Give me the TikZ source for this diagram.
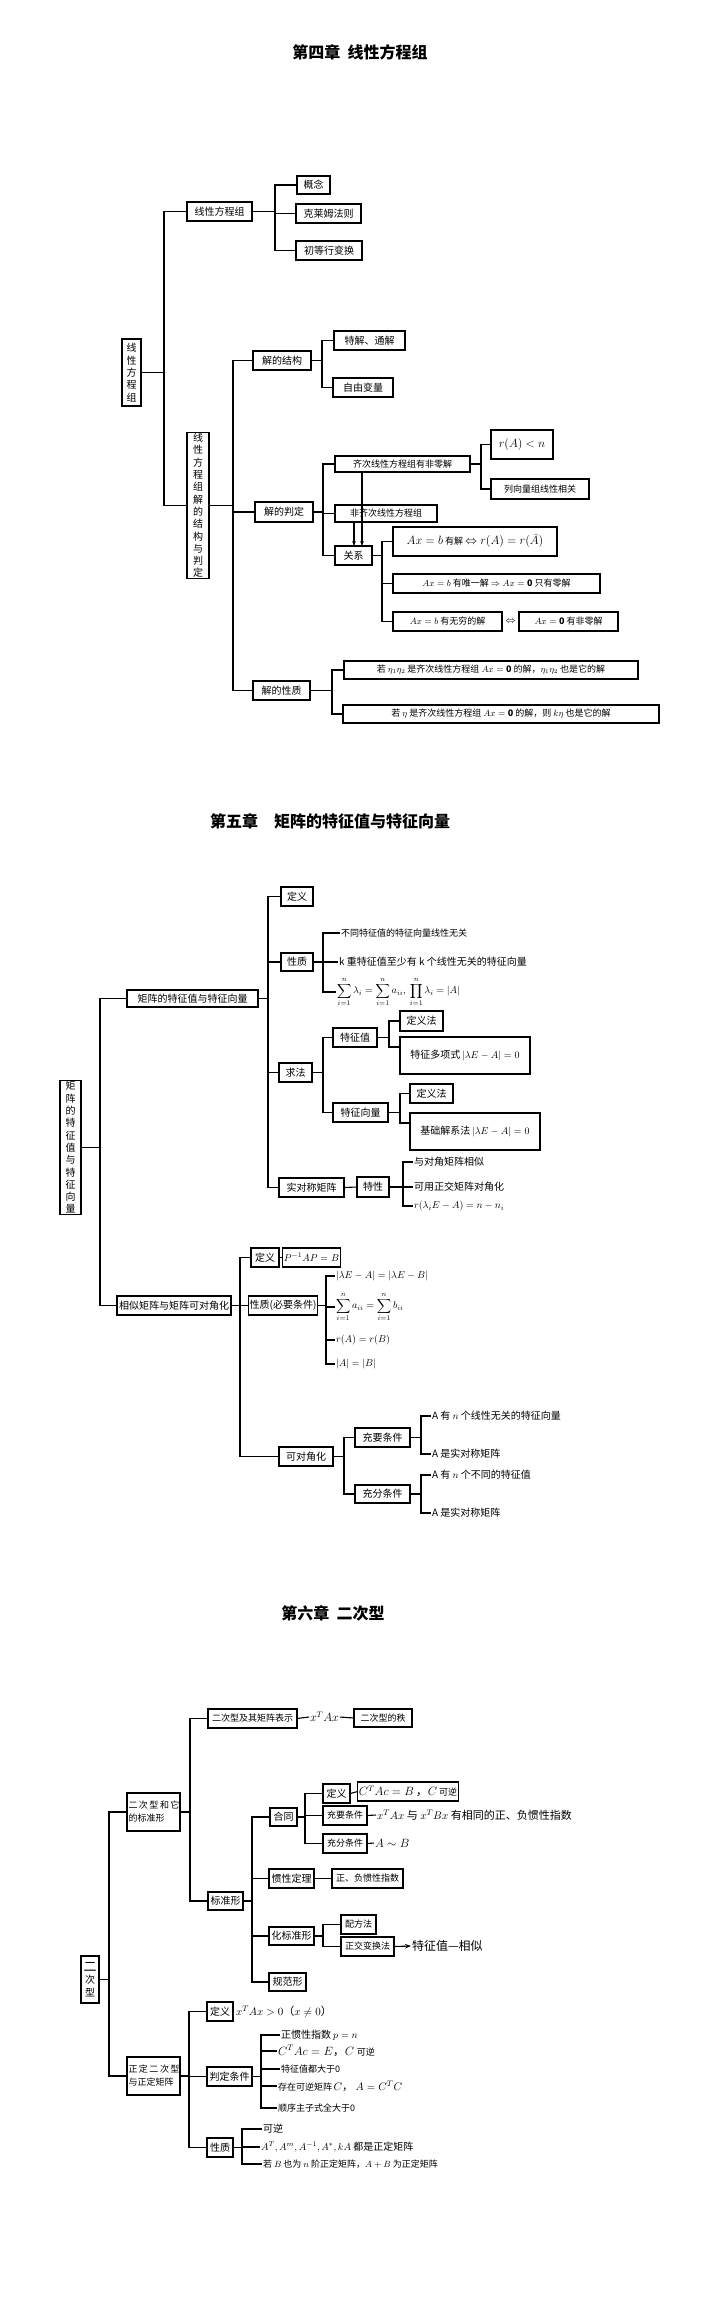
\documentclass[tikz,border=0pt]{standalone}
\usepackage{fontspec}
\setmainfont{Noto Sans CJK SC}
\usepackage{amsmath}
\usetikzlibrary{arrows.meta,calc}
\tikzset{
  box/.style={draw,line width=1.1pt,inner sep=1pt,outer sep=0pt,font=\fontsize{10}{12.3}\selectfont,align=center},
  sbox/.style={box,font=\fontsize{9}{11}\selectfont},
  txt/.style={inner sep=1pt,outer sep=0pt,font=\fontsize{10}{12}\selectfont},
  ln/.style={line width=1.1pt},
  ttl/.style={font=\fontsize{16}{18}\selectfont\bfseries}
}
\newcommand\bx[7][box]{\node[#1,minimum width={(#5-#3)*1pt},minimum height={(#6-#4)*1pt}] (#2) at ({(#3+#5)/2},{(#4+#6)/2}) {#7};}
\newcommand\tx[4]{\node[txt,anchor=west] (#1) at (#2,#3) {#4};}
\newcommand\br[3]{\draw[ln] let \p1=(#1.east) in (\p1) -- (#2pt,\y1) |- (#3.west);}
\begin{document}
\begin{tikzpicture}[x=1pt,y=-1pt]
\useasboundingbox (0,0) rectangle (720,2315);
% ================= Chapter 4
\node[ttl] (t4) at (360,52) {第四章\ \ 线性方程组};
\bx{r4}{122}{339}{141}{406}{线\\性\\方\\程\\组}
\bx{l1}{187}{202}{252}{221}{线性方程组}
\bx{l2}{187}{436}{209}{575}{线\\性\\方\\程\\组\\解\\的\\结\\构\\与\\判\\定}
\br{r4}{164}{l1}\br{r4}{164}{l2}
\bx{gn}{297}{176}{330}{194}{概念}
\bx{km}{296}{204}{361}{223}{克莱姆法则}
\bx{cd}{296}{241}{362}{260}{初等行变换}
\br{l1}{275}{gn}\br{l1}{275}{km}\br{l1}{275}{cd}
\bx{jg}{253}{351}{311}{370}{解的结构}
\bx{jp}{255}{502}{313}{522}{解的判定}
\bx{jx}{253}{681}{310}{700}{解的性质}
\br{l2}{233}{jg}\br{l2}{233}{jp}\br{l2}{233}{jx}
\bx{tj}{334}{331}{405}{350}{特解、通解}
\bx{zy}{333}{378}{393}{397}{自由变量}
\br{jg}{322}{tj}\br{jg}{322}{zy}
\bx[sbox]{qc}{335}{456}{470}{472}{齐次线性方程组有非零解}
\bx[sbox]{fq}{335}{505}{437}{522}{非齐次线性方程组}
\bx{gx}{335}{546}{372}{565}{关系}
\br{jp}{323}{qc}\br{jp}{323}{fq}\br{jp}{323}{gx}
\draw[ln,-{Stealth[length=5pt]}] ([xshift=-40.5pt]qc.south) -- ([xshift=-40.5pt]qc.south |- gx.north);
\draw[ln,-{Stealth[length=5pt]}] ([xshift=-32pt]fq.south) -- ([xshift=-32pt]fq.south |- gx.north);
\bx{ra}{491}{430}{553}{459}{\fontsize{13}{15}\selectfont$r(A)<n$}
\bx[sbox]{lx}{491}{479}{589}{499}{列向量组线性相关}
\br{qc}{481}{ra}\br{qc}{481}{lx}
\bx[sbox]{b1}{393}{527}{557}{556}{\fontsize{12}{14}\selectfont$Ax=b$\,{\fontsize{9}{11}\selectfont 有解}\,$\Leftrightarrow r(A)=r(\bar A)$}
\bx[sbox]{b2}{393}{574}{600}{593}{$Ax=b$ 有唯一解 $\Rightarrow Ax=\mathbf 0$ 只有零解}
\bx[sbox]{b3}{393}{612}{502}{631}{$Ax=b$ 有无穷的解}
\bx[sbox]{b4}{519}{612}{618}{631}{$Ax=\mathbf 0$ 有非零解}
\node[txt] (eq) at (510.5,621.5) {$\Leftrightarrow$};
\br{gx}{382}{b1}\br{gx}{382}{b2}\br{gx}{382}{b3}
\bx[sbox]{p1}{344}{661}{638}{679}{若 $\eta_1\eta_2$ 是齐次线性方程组 $Ax=\mathbf 0$ 的解，$\eta_1\eta_2$ 也是它的解}
\bx[sbox]{p2}{343}{705}{659}{723}{若 $\eta$ 是齐次线性方程组 $Ax=\mathbf 0$ 的解，则 $k\eta$ 也是它的解}
\br{jx}{332}{p1}\br{jx}{332}{p2}
% ================= Chapter 5
\node[ttl] (t5) at (330,821) {第五章\quad 矩阵的特征值与特征向量};
\bx{r5}{60}{1082}{81}{1213}{矩\\阵\\的\\特\\征\\值\\与\\特\\征\\向\\量}
\bx{m1}{127}{990}{258}{1007}{矩阵的特征值与特征向量}
\bx{m2}{117}{1296}{231}{1315}{相似矩阵与矩阵可对角化}
\br{r5}{100}{m1}\br{r5}{100}{m2}
\bx{dy}{281}{887}{313}{906}{定义}
\bx{xz}{281}{953}{313}{971}{性质}
\bx{qf}{279}{1063}{312}{1082}{求法}
\bx{sd}{279}{1178}{344}{1197}{实对称矩阵}
\br{m1}{268}{dy}\br{m1}{268}{xz}\br{m1}{268}{qf}\br{m1}{268}{sd}
\tx{x1}{340}{933}{\fontsize{9}{11}\selectfont 不同特征值的特征向量线性无关}
\tx{x2}{338}{962}{k 重特征值至少有 k 个线性无关的特征向量}
\tx{x3}{336}{992}{$\displaystyle\sum_{i=1}^n\lambda_i=\sum_{i=1}^n a_{ii},\ \prod_{i=1}^n\lambda_i=|A|$}
\draw[ln] let \p1=(xz.east) in (\p1) -- (323pt,\y1);
\draw[ln] let \p1=(x1.west) in (\p1) -- (323pt,\y1) |- (x3.west);
\draw[ln] let \p1=(x2.west) in (\p1) -- (323pt,\y1);
\bx{tz}{333}{1028}{377}{1047}{特征值}
\bx{tx}{333}{1103}{388}{1122}{特征向量}
\br{qf}{323}{tz}\br{qf}{323}{tx}
\bx{d1}{400}{1011}{443}{1031}{定义法}
\bx{dx}{400}{1037}{530}{1074}{特征多项式\,$|\lambda E-A|=0$}
\draw[ln] let \p1=(tz.east) in (\p1) -- (389pt,\y1) |- (d1.west);
\draw[ln] let \p1=(tz.east) in (\p1) -- (389pt,\y1) |- ([yshift=-10pt]dx.north west);
\bx{d2}{410}{1084}{453}{1103}{定义法}
\bx{jc}{410}{1113}{540}{1150}{基础解系法\,$|\lambda E-A|=0$}
\draw[ln] let \p1=(tx.east) in (\p1) -- (400pt,\y1) |- (d2.west);
\draw[ln] let \p1=(tx.east) in (\p1) -- (400pt,\y1) |- ([yshift=-10pt]jc.north west);
\bx{tx2}{357}{1177}{389}{1197}{特性}
\draw[ln] (sd.east) -- (tx2.west);
\tx{s1}{413}{1162}{与对角矩阵相似}
\tx{s2}{413}{1187}{可用正交矩阵对角化}
\tx{s3}{413}{1206}{$r(\lambda_i E-A)=n-n_i$}
\br{tx2}{403}{s1}\br{tx2}{403}{s2}\br{tx2}{403}{s3}
\bx{dy2}{251}{1248}{279}{1267}{定义}
\bx{xb}{249}{1296}{317}{1315}{性质(必要条件)}
\bx{kd}{279}{1447}{333}{1466}{可对角化}
\br{m2}{240}{dy2}\br{m2}{240}{xb}\br{m2}{240}{kd}
\bx{pb}{290}{1248}{333}{1267}{$P^{-1}AP=B$}
\draw[ln] (dy2.east) -- (pb.west);
\tx{n1}{335}{1276}{$|\lambda E-A|=|\lambda E-B|$}
\tx{n2}{335}{1307}{$\displaystyle\sum_{i=1}^n a_{ii}=\sum_{i=1}^n b_{ii}$}
\tx{n3}{335}{1340}{$r(A)=r(B)$}
\tx{n4}{335}{1364}{$|A|=|B|$}
\br{xb}{326}{n1}\br{xb}{326}{n2}\br{xb}{326}{n3}\br{xb}{326}{n4}
\bx{cy}{355}{1428}{410}{1447}{充要条件}
\bx{cf}{355}{1485}{410}{1503}{充分条件}
\br{kd}{344}{cy}\br{kd}{344}{cf}
\tx{a1}{431}{1416}{A 有 $n$ 个线性无关的特征向量}
\tx{a2}{431}{1454}{A 是实对称矩阵}
\tx{a3}{431}{1475}{A 有 $n$ 个不同的特征值}
\tx{a4}{431}{1513}{A 是实对称矩阵}
\br{cy}{421}{a1}\br{cy}{421}{a2}\br{cf}{421}{a3}\br{cf}{421}{a4}
% ================= Chapter 6
\node[ttl] (t6) at (333,1613) {第六章\ \ 二次型};
\bx{r6}{81}{1956}{99}{2003}{\fontsize{13}{15.5}\selectfont 二\\次\\型}
\bx[sbox]{q1}{127}{1793}{180}{1831}{\parbox{50pt}{\raggedright 二\,次\,型\,和\,它\\[2pt]的标准形}}
\bx[sbox]{q2}{127}{2057}{180}{2095}{\parbox{50pt}{\raggedright 正\,定\,二\,次\,型\\[2pt]与正定矩阵}}
\br{r6}{109}{q1}\br{r6}{109}{q2}
\bx[sbox]{jz}{208}{1709}{297}{1728}{二次型及其矩阵表示}
\bx{bz}{208}{1892}{243}{1910}{标准形}
\br{q1}{190}{jz}\br{q1}{190}{bz}
\node[txt,anchor=west] (xa) at (309,1717) {\fontsize{12}{14}\selectfont$x^TAx$};
\bx[sbox]{zh}{354}{1709}{412}{1727}{二次型的秩}
\draw[ln] (jz.east) -- (xa.west);
\draw[ln] (xa.east) -- (zh.west);
\bx{ht}{270}{1808}{297}{1826}{合同}
\bx{gd}{269}{1869}{314}{1888}{惯性定理}
\bx{hb}{269}{1927}{314}{1945}{化标准形}
\bx{gf}{269}{1973}{306}{1991}{规范形}
\br{bz}{252}{ht}\br{bz}{252}{gd}\br{bz}{252}{hb}\br{bz}{252}{gf}
\bx{dy3}{323}{1784}{350}{1803}{定义}
\bx[sbox]{cy3}{323}{1806}{367}{1825}{充要条件}
\bx[sbox]{cf3}{323}{1834}{367}{1853}{充分条件}
\br{ht}{305}{dy3}\br{ht}{305}{cy3}\br{ht}{305}{cf3}
\bx{cab}{359}{1782}{457}{1801}{\fontsize{12}{14}\selectfont$C^TAc=B$\,，$C$\,{\fontsize{9}{11}\selectfont 可逆}}
\draw[ln] (dy3.east) -- (cab.west);
\tx{xb3}{376}{1815}{\fontsize{11}{13}\selectfont$x^TAx$ 与 $x^TBx$ 有相同的正、负惯性指数}
\draw[ln] (cy3.east) -- (xb3.west);
\tx{ab3}{374}{1843}{\fontsize{12}{14}\selectfont$A\sim B$}
\draw[ln] (cf3.east) -- (ab3.west);
\bx[sbox]{zf}{332}{1869}{403}{1888}{正、负惯性指数}
\draw[ln] (gd.east) -- (zf.west);
\bx[sbox]{pf}{341}{1915}{376}{1934}{配方法}
\bx[sbox]{zj}{341}{1937}{394}{1956}{正交变换法}
\br{hb}{323}{pf}\br{hb}{323}{zj}
\tx{tzx}{411}{1946}{\fontsize{12}{14}\selectfont 特征值—相似}
\draw[ln,-{Stealth[length=6pt]}] (zj.east) -- (tzx.west);
\bx{dy4}{207}{2002}{233}{2021}{定义}
\bx{pd}{207}{2067}{252}{2086}{判定条件}
\bx{xz4}{207}{2138}{233}{2157}{性质}
\br{q2}{189}{dy4}\br{q2}{189}{pd}\br{q2}{189}{xz4}
\tx{dx4}{235}{2012}{\fontsize{11}{13}\selectfont$x^TAx>0$（$x\neq0$）}
\tx{j1}{280}{2035}{正惯性指数 $p=n$}
\tx{j2}{277}{2051}{\fontsize{12}{14}\selectfont$C^TAc=E$，$C$ {\fontsize{9}{11}\selectfont 可逆}}
\tx{j3}{280}{2069}{\fontsize{9}{11}\selectfont 特征值都大于0}
\tx{j4}{277}{2086}{\fontsize{9}{11}\selectfont 存在可逆矩阵\,{\fontsize{11}{13}\selectfont$C$，\ $A=C^TC$}}
\tx{j5}{277}{2108}{\fontsize{9}{11}\selectfont 顺序主子式全大于0}
\br{pd}{261}{j1}\br{pd}{261}{j2}\br{pd}{261}{j3}\br{pd}{261}{j4}\br{pd}{261}{j5}
\tx{k1}{262}{2129}{可逆}
\tx{k2}{260}{2147}{$A^T,A^m,A^{-1},A^*,kA$ 都是正定矩阵}
\tx{k3}{262}{2164}{\fontsize{9}{11}\selectfont 若 $B$ 也为 $n$ 阶正定矩阵，$A+B$ 为正定矩阵}
\br{xz4}{242}{k1}\br{xz4}{242}{k2}\br{xz4}{242}{k3}
\end{tikzpicture}
\end{document}
